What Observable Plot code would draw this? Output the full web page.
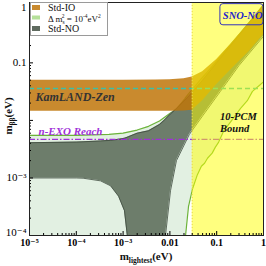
<!DOCTYPE html>
<html>
<head>
<meta charset="utf-8">
<script src="https://cdn.jsdelivr.net/npm/d3@7"></script>
<script src="https://cdn.jsdelivr.net/npm/@observablehq/plot@0.6"></script>
<style>
  html, body { margin: 0; padding: 0; background: #fff; }
  #chart { position: relative; width: 266px; height: 266px; }
</style>
</head>
<body>
<div id="chart"></div>
<script>
// ---- Data (m_lightest in eV, m_bb in eV) ----
// Std-IO band
const ioM    = [1e-5, 1e-3, 0.005, 0.01, 0.02, 0.03, 0.05, 0.1, 0.2, 0.5, 1];
const ioLow  = [0.0145, 0.0145, 0.0145, 0.0145, 0.0146, 0.015, 0.022, 0.042, 0.075, 0.16, 0.31];
const ioHigh = [0.05, 0.05, 0.0502, 0.0508, 0.053, 0.057, 0.07, 0.115, 0.21, 0.5, 1];

// Std-NO band (lower edge falls below the axis in the cancellation funnel)
const noM    = [1e-5, 1e-4, 1.4e-4, 3.3e-4, 5.4e-4, 8e-4, 1.07e-3, 1.23e-3, 1.3e-3, 2e-3, 3.5e-3, 6e-3, 7.8e-3, 8.05e-3, 0.0103, 0.0138, 0.026, 0.05, 0.12, 0.3, 1];
const noLow  = [1e-3, 1e-3, 9.9e-4, 8.9e-4, 7.3e-4, 4.8e-4, 2.7e-4, 1e-4, 1e-6, 1e-6, 1e-6, 1e-6, 1e-6, 1e-4, 6e-4, 2e-3, 5.7e-3, 0.012, 0.032, 0.09, 0.29];
const noHigh = [4.1e-3, 4.2e-3, 4.25e-3, 4.4e-3, 4.5e-3, 4.7e-3, 4.9e-3, 5.1e-3, 5.2e-3, 6e-3, 6.6e-3, 8.5e-3, 0.0103, 0.0106, 0.013, 0.016, 0.027, 0.05, 0.12, 0.3, 1];

// Sterile case, Δm_s^2 = 1e-4 eV^2
const stM    = [1e-5, 1e-4, 5e-4, 1e-3, 2e-3, 3.5e-3, 6e-3, 0.0103, 0.0137, 0.021, 0.0216, 0.025, 0.0305, 0.038, 0.047, 0.055, 0.0635, 0.08, 0.093, 0.11, 0.14, 0.2, 0.32, 0.45, 0.58, 0.8, 1];
const stLow  = [1e-6, 1e-6, 1e-6, 1e-6, 1e-6, 1e-6, 1e-6, 1e-6, 1e-6, 1e-6, 1e-4, 3.2e-4, 6.5e-4, 1.1e-3, 1.6e-3, 1.8e-3, 2.2e-3, 2.7e-3, 3.4e-3, 4.2e-3, 6.5e-3, 9.5e-3, 0.016, 0.022, 0.032, 0.04, 0.047];
const stHigh = [5.5e-3, 5.5e-3, 5.7e-3, 6e-3, 6.8e-3, 7.9e-3, 9.8e-3, 0.0135, 0.0155, 0.024, 0.025, 0.029, 0.035, 0.043, 0.053, 0.061, 0.07, 0.087, 0.1, 0.118, 0.15, 0.21, 0.33, 0.46, 0.59, 0.81, 1.02];

// Limits
const kamlandLimit = [0.036];
const nexoReach    = [0.0047];
const pcmBound     = [0.03, 1];   // 10-PCM excluded m_lightest range

// Axis ticks
const xMajor  = [1e-5, 1e-4, 1e-3, 1e-2, 1e-1, 1];
const xLabels = ["10⁻⁵", "10⁻⁴", "10⁻³", "0.01", "0.1", "1"];
const yMajor  = [1e-4, 1e-3, 1e-2, 1e-1, 1];
const yLabels = ["10⁻⁴", "10⁻³", "", "0.1", "1"];

// Annotations
const notes = [
  {m: 1.34e-5, v: 0.025,  text: "KamLAND-Zen", color: "#333333", size: 12},
  {m: 1.56e-5, v: 0.0064, text: "n-EXO Reach", color: "#a030d8", size: 11},
  {m: 0.118,   v: 0.0117, text: "10-PCM",      color: "#111111", size: 10.5},
  {m: 0.118,   v: 0.0073, text: "Bound",       color: "#111111", size: 10.5},
  {m: 0.135,   v: 0.66,   text: "SNO-NO",      color: "#2222cc", size: 10.5}
];
const snoBox = [{m1: 0.12, m2: 1.0, v1: 0.45, v2: 1.05}];

// ---- Build tables ----
const io = ioM.map((m, i) => ({m, lo: ioLow[i], hi: ioHigh[i]}));
const no = noM.map((m, i) => ({m, lo: noLow[i], hi: noHigh[i]}));
const st = stM.map((m, i) => ({m, lo: stLow[i], hi: stHigh[i]}));
const xLabelMap = new Map(xMajor.map((d, i) => [d, xLabels[i]]));
const yLabelMap = new Map(yMajor.map((d, i) => [d, yLabels[i]]));
const yTop = yMajor.filter(d => d === 1);
const yBottom = yMajor.filter(d => d === 1e-4);
const yMid = yMajor.filter(d => d !== 1 && d !== 1e-4);
const xMinor = [];
for (let e = -5; e < 0; e++) for (let k = 2; k <= 9; k++) xMinor.push(k * 10 ** e);
const yMinor = [];
for (let e = -4; e < 0; e++) for (let k = 2; k <= 9; k++) yMinor.push(k * 10 ** e);

const serif = "Liberation Serif, DejaVu Serif, serif";
const yAxisLabels = (ticks, dy) => Plot.axisY(ticks, {tickSize: 0, tickPadding: 3,
  tickFormat: d => yLabelMap.get(d), fontSize: 11, dy, label: null});

const plot = Plot.plot({
  width: 266,
  height: 266,
  marginLeft: 29,
  marginRight: 3,
  marginTop: 2,
  marginBottom: 31,
  style: {fontFamily: serif, fontSize: "10px", background: "white", overflow: "visible"},
  x: {type: "log", domain: [1e-5, 1], label: null},
  y: {type: "log", domain: [1e-4, 1.12], label: null},
  marks: [
    // sterile region
    Plot.areaY(st, {x: "m", y1: "lo", y2: "hi", fill: "#e2f0e2", clip: true}),
    Plot.line(st, {x: "m", y: "hi", stroke: "#6cb33a", strokeWidth: 1.2, clip: true}),
    Plot.line(st, {x: "m", y: "lo", stroke: "#6cb33a", strokeWidth: 1.2, clip: true}),
    // standard NO
    Plot.areaY(no, {x: "m", y1: "lo", y2: "hi", fill: "#6d7d6b", clip: true}),
    Plot.line(no, {x: "m", y: "hi", stroke: "#3e4a3e", strokeWidth: 0.8, clip: true}),
    Plot.line(no, {x: "m", y: "lo", stroke: "#3e4a3e", strokeWidth: 0.8, clip: true}),
    // standard IO
    Plot.areaY(io, {x: "m", y1: "lo", y2: "hi", fill: "#bf7509", fillOpacity: 0.85, clip: true}),
    // limits
    Plot.ruleY(kamlandLimit, {stroke: "#3cc0a8", strokeWidth: 1.5, strokeDasharray: "5,3"}),
    Plot.ruleY(nexoReach, {stroke: "#a030d8", strokeWidth: 1.2, strokeDasharray: "6,2,1.5,2"}),
    // 10-PCM excluded region
    Plot.rect([{a: pcmBound[0], b: pcmBound[1]}], {x1: "a", x2: "b", fill: "#ffff00", fillOpacity: 0.5}),
    Plot.ruleX([pcmBound[0]], {stroke: "#e8d850", strokeDasharray: "1,2"}),
    // SNO-NO box
    Plot.rect(snoBox, {x1: "m1", x2: "m2", y1: "v1", y2: "v2", fill: "none", stroke: "#3333bb", strokeWidth: 1, rx: 3, inset: 0}),
    // annotations
    Plot.text(notes, {x: "m", y: "v", text: "text", fill: "color", fontSize: "size",
      fontWeight: "bold", fontStyle: "italic", textAnchor: "start", fontFamily: serif}),
    // axes: labels
    Plot.axisX(xMajor, {tickSize: 0, tickPadding: 3, tickFormat: d => xLabelMap.get(d),
      fontWeight: "bold", fontSize: 10, label: null}),
    yAxisLabels(yTop, 2),
    yAxisLabels(yMid, 0),
    yAxisLabels(yBottom, -3),
    // axes: inward ticks
    Plot.axisX(xMajor, {tickSize: -4, tickFormat: () => "", label: null}),
    Plot.axisX(xMinor, {tickSize: -2, tickFormat: () => "", label: null}),
    Plot.axisY(yMajor, {tickSize: -4, tickFormat: () => "", label: null}),
    Plot.axisY(yMinor, {tickSize: -2, tickFormat: () => "", label: null}),
    Plot.frame({stroke: "#222", strokeWidth: 1})
  ]
});

document.getElementById("chart").appendChild(plot);

// ---- Legend and axis titles (text with sub/superscripts) ----
const svg = d3.select(plot);
const lg = svg.append("g").attr("font-family", serif).attr("font-size", 10).attr("fill", "#111")
  .attr("text-anchor", "start");
lg.append("rect").attr("x", 30.5).attr("y", 2.5).attr("width", 77).attr("height", 33)
  .attr("fill", "white").attr("stroke", "#9a9a9a");
lg.append("rect").attr("x", 32).attr("y", 5).attr("width", 8).attr("height", 5).attr("fill", "#c98a2e");
lg.append("rect").attr("x", 32).attr("y", 15.5).attr("width", 8).attr("height", 4).attr("fill", "#b5e09a");
lg.append("rect").attr("x", 32).attr("y", 26).attr("width", 8).attr("height", 5).attr("fill", "#5f6a5f");
lg.append("text").attr("x", 48).attr("y", 11).text("Std-IO");
const t2 = lg.append("text").attr("x", 48).attr("y", 21.5).attr("font-size", 9);
t2.append("tspan").text("Δ m");
t2.append("tspan").attr("dy", 2).attr("font-size", 5.5).text("s");
t2.append("tspan").attr("dx", -3).attr("dy", -5.5).attr("font-size", 5.5).text("2");
t2.append("tspan").attr("dy", 3.5).text(" = 10");
t2.append("tspan").attr("dy", -3.5).attr("font-size", 5.5).text("-4");
t2.append("tspan").attr("dy", 3.5).text("eV");
t2.append("tspan").attr("dy", -3.5).attr("font-size", 5.5).text("2");
lg.append("text").attr("x", 48).attr("y", 32).text("Std-NO");

const ylab = svg.append("text").attr("font-family", serif).attr("font-weight", "bold")
  .attr("font-size", 11).attr("fill", "#111").attr("text-anchor", "middle")
  .attr("transform", "translate(12,116) rotate(-90)");
ylab.append("tspan").text("m");
ylab.append("tspan").attr("dy", 2.5).attr("font-size", 7.5).text("ββ");
ylab.append("tspan").attr("dy", -2.5).text("(eV)");

const xlab = svg.append("text").attr("font-family", serif).attr("font-weight", "bold")
  .attr("font-size", 11).attr("fill", "#111").attr("text-anchor", "middle")
  .attr("x", 146).attr("y", 260);
xlab.append("tspan").text("m");
xlab.append("tspan").attr("dy", 2.5).attr("font-size", 7.5).text("lightest");
xlab.append("tspan").attr("dy", -2.5).text("(eV)");
</script>
</body>
</html>
